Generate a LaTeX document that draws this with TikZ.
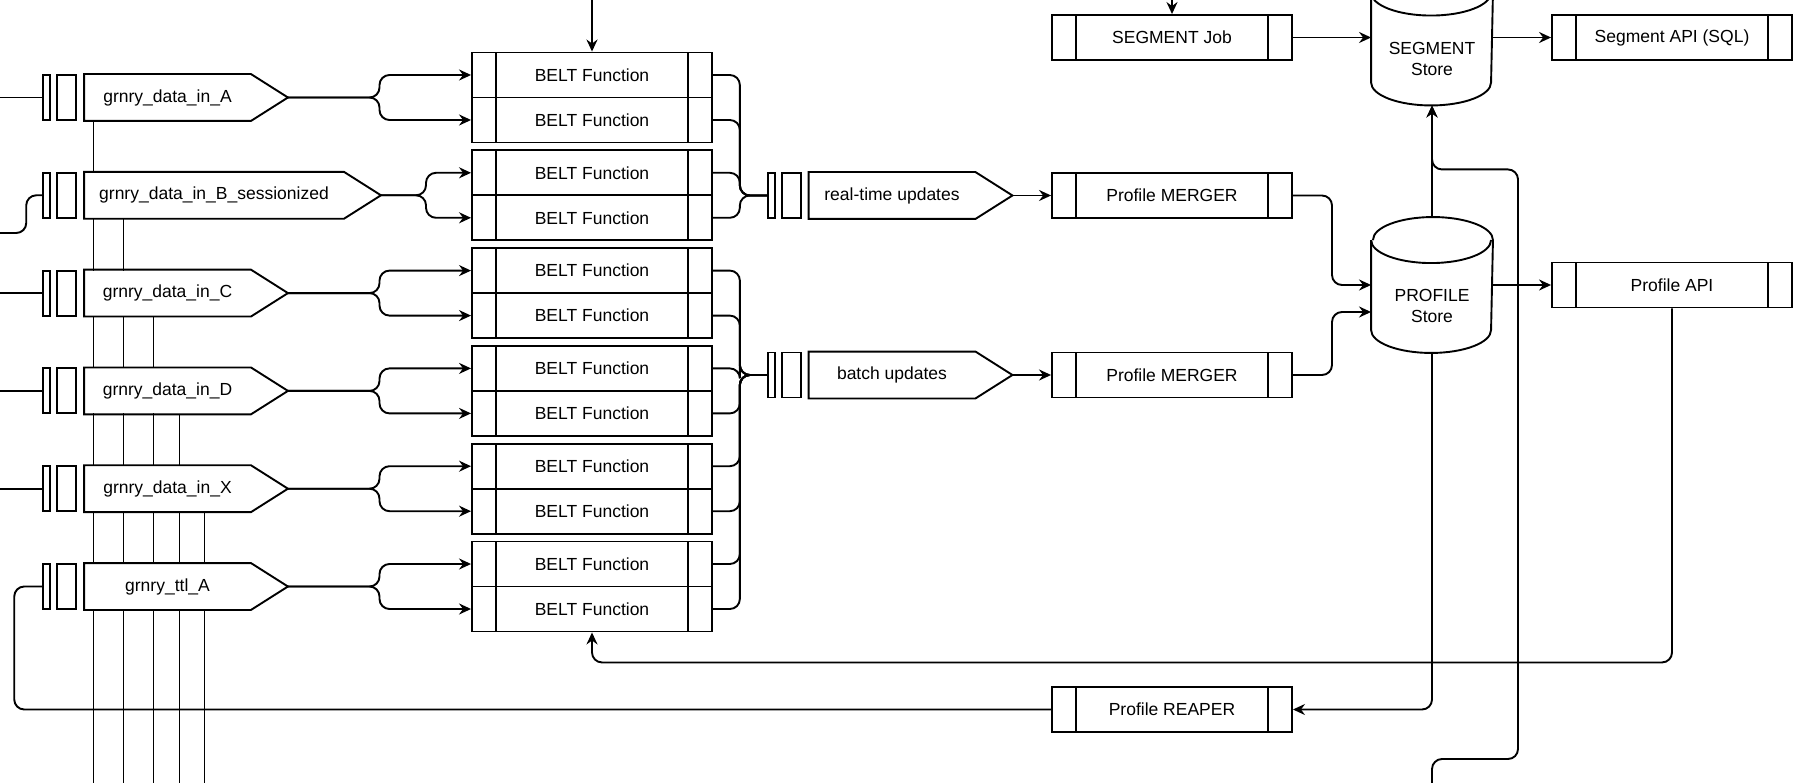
\documentclass[tikz,border=0pt]{standalone}
\usepackage{fontspec}
\setmainfont{Liberation Sans}
\usetikzlibrary{arrows.meta, calc, positioning, backgrounds}

\begin{document}
\begin{tikzpicture}[x=1pt, y=-1pt, line width=1.9pt,
  font=\fontsize{17.5}{21}\selectfont,
  link/.style={rounded corners=10pt},
  flow/.style={-{Stealth[length=12pt, width=11pt, inset=4pt]}, rounded corners=10pt},
  proc/.style={draw, fill=white, minimum width=240pt, minimum height=45pt, inner sep=0pt,
    path picture={\draw ([xshift=24pt]path picture bounding box.north west) -- ([xshift=24pt]path picture bounding box.south west)
      ([xshift=-24pt]path picture bounding box.north east) -- ([xshift=-24pt]path picture bounding box.south east);}},
  body/.style={fill=white, minimum width=165pt, minimum height=45pt, inner sep=0pt},
  bar/.style={draw, fill=white, minimum height=45pt, inner sep=0pt},
  store/.style={minimum width=120pt, minimum height=134pt, inner sep=0pt}]
\useasboundingbox (0,0) rectangle (1803,783);
\coordinate (leftedge) at (0,0);
\coordinate (inB) at (0,233);
\coordinate (topB) at (592,0);
\coordinate (topJ) at (1172,0);
\coordinate (botS) at (1432,783);

% queues
\node[body] (qA) at (167.5,97.5) {grnry\_data\_in\_A};
\node[body, minimum width=258pt] (qB) at (214,195.3) {grnry\_data\_in\_B\_sessionized};
\node[body] (qC) at (167.5,293.1) {grnry\_data\_in\_C};
\node[body] (qD) at (167.5,390.9) {grnry\_data\_in\_D};
\node[body] (qX) at (167.5,488.7) {grnry\_data\_in\_X};
\node[body] (qT) at (167.5,586.5) {grnry\_ttl\_A};
\node[body] (qR) at (892,195.5) {real-time updates};
\node[body] (qU) at (892,375) {batch updates};
\foreach \q in {qA,qB,qC,qD,qX,qT,qR,qU} {
  \node[bar, minimum width=19pt, left=7pt of \q] (\q-b2) {};
  \node[bar, minimum width=7pt, left=5pt of \q-b2] (\q-b1) {};
  \draw (\q.north east) -- ([xshift=37pt]\q.east) coordinate (\q-tip) -- (\q.south east) -- (\q.south west) -- (\q.north west) -- cycle;
}
\begin{scope}[on background layer]
\foreach \q/\dx in {qA/9,qB/39,qC/69,qD/95,qX/120}
  \draw ([xshift=\dx pt]\q.south west) -- ([xshift=\dx pt]\q.south west |- botS);
\end{scope}
\foreach \q in {qA,qC,qD,qX}
  \draw (\q-b1.west -| leftedge) -- (\q-b1.west);
\draw[link] (inB) -| ([xshift=-16pt]qB-b1.west) -- (qB-b1.west);

% belt functions
\foreach \i/\q in {1/qA,2/qB,3/qC,4/qD,5/qX,6/qT} {
  \node[proc] (b\i1) at (592,{75+97.8*(\i-1)}) {BELT Function};
  \node[proc] (b\i2) at (592,{120+97.8*(\i-1)}) {BELT Function};
  \coordinate (f\i) at ($(\q-tip)!.5!(b\i1.west)$);
  \draw[flow] (\q-tip) -| (f\i |- b\i1.west) -- (b\i1.west);
  \draw[flow] (\q-tip) -| (f\i |- b\i2.west) -- (b\i2.west);
}
\coordinate (mR) at ($(b11.east)!.5!(qR-b1.west)$);
\foreach \b in {b11,b12,b21,b22}
  \draw[link] (\b.east) -| (mR |- qR-b1.west) -- (qR-b1.west);
\foreach \b in {b31,b32,b41,b42,b51,b52,b61,b62}
  \draw[link] (\b.east) -| (mR |- qU-b1.west) -- (qU-b1.west);
\draw[flow] (topB) -- (b11.north);

% jobs, stores, apis
\node[proc] (job) at (1172,37.5) {SEGMENT Job};
\node[proc] (m1) at (1172,195.5) {Profile MERGER};
\node[proc] (m2) at (1172,375) {Profile MERGER};
\node[proc] (reaper) at (1172,709.5) {Profile REAPER};
\node[proc] (sapi) at (1672,37.5) {Segment API (SQL)};
\node[proc] (papi) at (1672,285) {Profile API};
\node[store, label={[yshift=-21pt, align=center]center:SEGMENT\\Store}] (seg) at (1432,37.5) {};
\node[store, label={[yshift=-21pt, align=center]center:PROFILE\\Store}] (prof) at (1432,285) {};
\foreach \s in {seg,prof} {
  \draw ([yshift=-23pt]\s.north west) -- ([yshift=23pt]\s.south west)
    arc[start angle=180, end angle=360, x radius=60pt, y radius=23pt]
    -- ([yshift=-23pt]\s.north east)
    arc[start angle=0, end angle=180, x radius=60pt, y radius=23pt];
  \draw ([yshift=-23pt]\s.north west) arc[start angle=180, end angle=360, x radius=60pt, y radius=23pt];
}
\coordinate (prof-in) at ([yshift=-27pt]prof.west);
\coordinate (mP) at ($(m1.east)!.5!(prof.west)$);

\draw[flow] (topJ) -- (job.north);
\draw[flow] (job.east) -- (seg.west);
\draw[flow] (seg.east) -- (sapi.west);
\draw[flow] (qR-tip) -- (m1.west);
\draw[flow] (qU-tip) -- (m2.west);
\draw[flow] (m1.east) -| (mP |- prof.west) -- (prof.west);
\draw[flow] (m2.east) -| (mP |- prof-in) -- (prof-in);
\draw[flow] (prof.east) -- (papi.west);
\draw[flow] (prof.north) -- (seg.south);
\draw[flow] (botS) -- ++(0,-24) -| ([xshift=86pt, yshift=-64pt]seg.south) -- ([yshift=-64pt]seg.south) -- (seg.south);
\draw[flow] (prof.south) |- (reaper.east);
\draw[flow] (papi.south) |- ([yshift=-30pt]b62.south) -- (b62.south);
\draw[link] (reaper.west) -| ([xshift=-28pt]qT-b1.west) -- (qT-b1.west);
\end{tikzpicture}
\end{document}
